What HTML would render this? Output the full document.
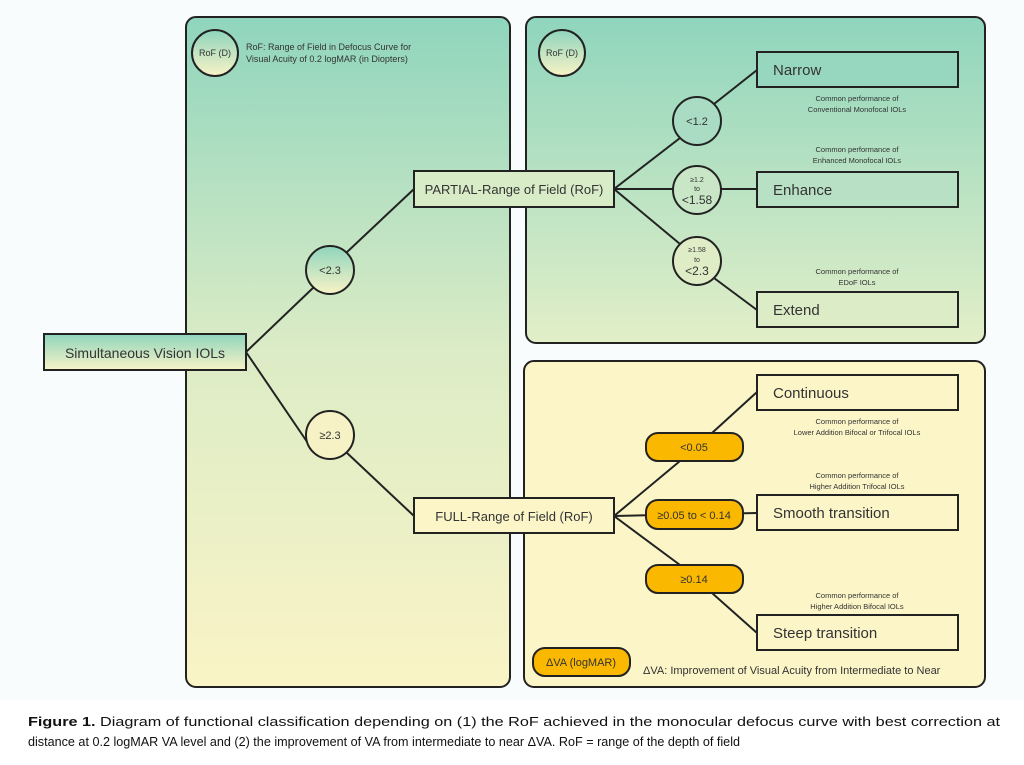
<!DOCTYPE html>
<html><head><meta charset="utf-8"><style>
html,body{margin:0;padding:0;background:#fff;}
svg{display:block;}
text{font-family:"Liberation Sans",sans-serif;fill:#333;}
</style></head><body>
<svg width="1024" height="765" viewBox="0 0 1024 765" xmlns="http://www.w3.org/2000/svg">
<defs>
<linearGradient id="gl" x1="0" y1="0" x2="0" y2="1">
<stop offset="0" stop-color="#8fd5bd"/><stop offset="0.5" stop-color="#dcecc6"/><stop offset="1" stop-color="#faf4c6"/>
</linearGradient>
<linearGradient id="gt" x1="0" y1="0" x2="0" y2="1">
<stop offset="0" stop-color="#8fd5bd"/><stop offset="1" stop-color="#e2efc8"/>
</linearGradient>
<linearGradient id="gc" x1="0" y1="0" x2="0" y2="1">
<stop offset="0" stop-color="#8fd5bd"/><stop offset="1" stop-color="#f8f3c6"/>
</linearGradient>
</defs>
<rect x="0" y="0" width="1024" height="700" fill="#f8fcfd"/>
<rect x="186" y="17" width="324" height="670" rx="10" fill="url(#gl)" stroke="#222" stroke-width="2"/>
<rect x="526" y="17" width="459" height="326" rx="10" fill="url(#gt)" stroke="#222" stroke-width="2"/>
<rect x="524" y="361" width="461" height="326" rx="10" fill="#fbf5c8" stroke="#222" stroke-width="2"/>

<g stroke="#222" stroke-width="2" fill="none">
<line x1="246" y1="352" x2="314" y2="287"/><line x1="346" y1="253" x2="414" y2="189"/>
<line x1="246" y1="352" x2="314" y2="452"/><line x1="346" y1="452" x2="414" y2="516"/>
<line x1="614" y1="189" x2="680" y2="138"/><line x1="714" y1="104" x2="757" y2="70"/>
<line x1="614" y1="189" x2="757" y2="189"/>
<line x1="614" y1="189" x2="680" y2="244"/><line x1="714" y1="278" x2="757" y2="310"/>
<line x1="614" y1="516" x2="680" y2="461"/><line x1="712" y1="433" x2="757" y2="392"/>
<line x1="614" y1="516" x2="757" y2="513"/>
<line x1="614" y1="516" x2="680" y2="565"/><line x1="712" y1="593" x2="757" y2="633"/>
</g>

<g stroke="#222" stroke-width="2">
<circle cx="215" cy="53" r="23" fill="url(#gc)"/>
<circle cx="562" cy="53" r="23" fill="url(#gc)"/>
<circle cx="330" cy="270" r="24" fill="url(#gc)"/>
<circle cx="330" cy="435" r="24" fill="#f7f2c6"/>
<circle cx="697" cy="121" r="24" fill="#a9dcc3"/>
<circle cx="697" cy="190" r="24" fill="#c9e6c6"/>
<circle cx="697" cy="261" r="24" fill="#dfedc7"/>
<rect x="44" y="334" width="202" height="36" fill="url(#gc)"/>
<rect x="414" y="171" width="200" height="36" fill="#d9ecc8"/>
<rect x="414" y="498" width="200" height="35" fill="#fbf5c8"/>
<rect x="757" y="52" width="201" height="35" fill="#97d7bf"/>
<rect x="757" y="172" width="201" height="35" fill="#b8e0c4"/>
<rect x="757" y="292" width="201" height="35" fill="#dcecc6"/>
<rect x="757" y="375" width="201" height="35" fill="#fbf5c8"/>
<rect x="757" y="495" width="201" height="35" fill="#fbf5c8"/>
<rect x="757" y="615" width="201" height="35" fill="#fbf5c8"/>
<rect x="646" y="433" width="97" height="28" rx="12" fill="#fbb800"/>
<rect x="646" y="500" width="97" height="29" rx="12" fill="#fbb800"/>
<rect x="646" y="565" width="97" height="28" rx="12" fill="#fbb800"/>
<rect x="533" y="648" width="97" height="28" rx="12" fill="#fbb800"/>
</g>

<g font-size="9" text-anchor="middle">
<text x="215" y="56">RoF (D)</text>
<text x="562" y="56">RoF (D)</text>
</g>
<text x="246" y="50" font-size="9">RoF: Range of Field in Defocus Curve for</text>
<text x="246" y="62" font-size="9">Visual Acuity of 0.2 logMAR (in Diopters)</text>

<g text-anchor="middle">
<text x="145" y="358" font-size="14">Simultaneous Vision IOLs</text>
<text x="330" y="274" font-size="11">&lt;2.3</text>
<text x="330" y="439" font-size="11">≥2.3</text>
<text x="514" y="194" font-size="13">PARTIAL-Range of Field (RoF)</text>
<text x="514" y="521" font-size="13">FULL-Range of Field (RoF)</text>
<text x="697" y="125" font-size="11">&lt;1.2</text>
<text x="697" y="182" font-size="7">≥1.2</text>
<text x="697" y="191" font-size="7">to</text>
<text x="697" y="204" font-size="12">&lt;1.58</text>
<text x="697" y="252" font-size="7">≥1.58</text>
<text x="697" y="262" font-size="7">to</text>
<text x="697" y="275" font-size="12">&lt;2.3</text>
<text x="694" y="451" font-size="11">&lt;0.05</text>
<text x="694" y="519" font-size="11">≥0.05 to &lt; 0.14</text>
<text x="694" y="583" font-size="11">≥0.14</text>
<text x="581" y="666" font-size="11">ΔVA (logMAR)</text>
<g font-size="7.5">
<text x="857" y="101">Common performance of</text><text x="857" y="112">Conventional Monofocal IOLs</text>
<text x="857" y="152">Common performance of</text><text x="857" y="163">Enhanced Monofocal IOLs</text>
<text x="857" y="274">Common performance of</text><text x="857" y="285">EDoF IOLs</text>
<text x="857" y="424">Common performance of</text><text x="857" y="435">Lower Addition Bifocal or Trifocal IOLs</text>
<text x="857" y="478">Common performance of</text><text x="857" y="489">Higher Addition Trifocal IOLs</text>
<text x="857" y="598">Common performance of</text><text x="857" y="609">Higher Addition Bifocal IOLs</text>
</g>
</g>
<g font-size="15">
<text x="773" y="75">Narrow</text>
<text x="773" y="195">Enhance</text>
<text x="773" y="315">Extend</text>
<text x="773" y="398">Continuous</text>
<text x="773" y="518">Smooth transition</text>
<text x="773" y="638">Steep transition</text>
</g>
<text x="643" y="674" font-size="11">ΔVA: Improvement of Visual Acuity from Intermediate to Near</text>

<text x="28" y="726" font-size="13" font-family="Liberation Sans, sans-serif" style="fill:#111;font-family:'Liberation Sans',sans-serif" textLength="972" lengthAdjust="spacingAndGlyphs"><tspan font-weight="bold">Figure 1.</tspan> Diagram of functional classification depending on (1) the RoF achieved in the monocular defocus curve with best correction at</text>
<text x="28" y="746" font-size="13" style="fill:#111;font-family:'Liberation Sans',sans-serif" textLength="712" lengthAdjust="spacingAndGlyphs">distance at 0.2 logMAR VA level and (2) the improvement of VA from intermediate to near ΔVA. RoF = range of the depth of field</text>
</svg>
</body></html>
